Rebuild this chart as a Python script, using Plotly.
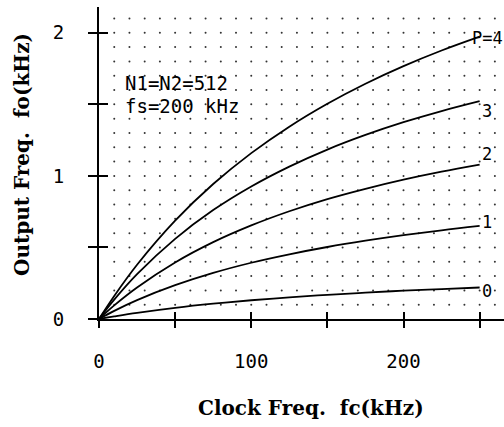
import plotly.graph_objects as go

# Clock frequency (kHz) sample points
fc = [0, 10, 25, 50, 75, 100, 125, 150, 175, 200, 225, 250]
# Output frequency (kHz) read for each P
fo_p0 = [0, 0.018, 0.043, 0.078, 0.107, 0.131, 0.151, 0.169, 0.184, 0.198, 0.209, 0.220]
fo_p1 = [0, 0.057, 0.132, 0.236, 0.322, 0.393, 0.452, 0.503, 0.547, 0.586, 0.620, 0.650]
fo_p2 = [0, 0.095, 0.220, 0.395, 0.537, 0.654, 0.753, 0.838, 0.910, 0.974, 1.030, 1.079]
fo_p3 = [0, 0.135, 0.313, 0.560, 0.761, 0.926, 1.065, 1.184, 1.286, 1.375, 1.453, 1.522]
fo_p4 = [0, 0.161, 0.379, 0.687, 0.943, 1.159, 1.344, 1.504, 1.644, 1.767, 1.876, 1.973]
series = [fo_p0, fo_p1, fo_p2, fo_p3, fo_p4]

curve_labels = ["0", "1", "2", "3", "P=4"]
label_y = [0.197, 0.68, 1.15, 1.45, 1.96]
label_x = 255

x_ticks = [0, 50, 100, 150, 200, 250]
x_ticktext = ["0", "", "100", "", "200", ""]
y_ticks = [0, 0.5, 1, 1.5, 2]
y_ticktext = ["0", "", "1", "", "2"]

grid_x = [10 * i for i in range(1, 27)]
grid_y = [round(0.1 * j, 1) for j in range(1, 22)]

X_RANGE = [0, 266]
Y_RANGE = [0, 2.18]

MONO = "DejaVu Sans Mono"
SERIF = "DejaVu Serif"

fig = go.Figure()

# dot grid
gx, gy = [], []
for xv in grid_x:
    for yv in grid_y:
        gx.append(xv)
        gy.append(yv)
fig.add_trace(go.Scatter(x=gx, y=gy, mode="markers",
                         marker=dict(size=2, color="#333"),
                         hoverinfo="skip", showlegend=False))

for ys in series:
    fig.add_trace(go.Scatter(x=fc, y=ys, mode="lines",
                             line=dict(color="black", width=1.8, shape="spline"),
                             showlegend=False))

# invisible trace for the overlay axes (inner half of crossing ticks)
fig.add_trace(go.Scatter(x=[0], y=[0], xaxis="x2", yaxis="y2", mode="markers",
                         marker=dict(size=1, opacity=0), showlegend=False,
                         hoverinfo="skip"))

for txt, yv in zip(curve_labels, label_y):
    fig.add_annotation(x=label_x, y=yv, text=txt, showarrow=False,
                       xanchor="center", yanchor="middle",
                       font=dict(family=MONO, size=17, color="black"))

fig.add_annotation(x=15.8, y=1.647, text="N1=N2=512", showarrow=False,
                   xanchor="left", yanchor="middle",
                   font=dict(family=MONO, size=19, color="black"))
fig.add_annotation(x=15.8, y=1.49, text="fs=200 kHz", showarrow=False,
                   xanchor="left", yanchor="middle",
                   font=dict(family=MONO, size=19, color="black"))

# axis titles
fig.add_annotation(xref="paper", yref="paper", x=0.523, y=-0.286,
                   text="Clock Freq.\u00a0\u00a0fc(kHz)", showarrow=False,
                   xanchor="center", yanchor="middle",
                   font=dict(family=SERIF, size=20, color="black", weight="bold"))
fig.add_annotation(xref="paper", yref="paper", x=-0.190, y=0.526,
                   text="Output Freq.\u00a0\u00a0fo(kHz)", showarrow=False,
                   textangle=-90, xanchor="center", yanchor="middle",
                   font=dict(family=SERIF, size=20, color="black", weight="bold"))

fig.update_layout(
    width=504, height=427,
    margin=dict(l=99, r=0, t=7, b=108),
    paper_bgcolor="white", plot_bgcolor="white",
    xaxis=dict(range=X_RANGE, showgrid=False, zeroline=False,
               showline=True, linecolor="black", linewidth=2,
               tickvals=x_ticks, ticktext=x_ticktext,
               ticks="outside", ticklen=7, tickwidth=1.5, tickcolor="black",
               ticklabelstandoff=17,
               tickfont=dict(family=MONO, size=19, color="black")),
    yaxis=dict(range=Y_RANGE, showgrid=False, zeroline=False,
               showline=True, linecolor="black", linewidth=2,
               tickvals=y_ticks, ticktext=y_ticktext,
               ticks="outside", ticklen=9, tickwidth=1.5, tickcolor="black",
               ticklabelstandoff=20,
               tickfont=dict(family=MONO, size=19, color="black")),
    xaxis2=dict(range=X_RANGE, overlaying="x", anchor="y", side="bottom",
                showgrid=False, zeroline=False, showline=False,
                tickvals=x_ticks, showticklabels=False,
                ticks="inside", ticklen=7, tickwidth=1.5, tickcolor="black"),
    yaxis2=dict(range=Y_RANGE, overlaying="y", anchor="x", side="left",
                showgrid=False, zeroline=False, showline=False,
                tickvals=y_ticks, showticklabels=False,
                ticks="inside", ticklen=9, tickwidth=1.5, tickcolor="black"),
)

fig.write_html("out.html",
               config={"displayModeBar": False},
               post_script="document.body.style.margin='0px';"
                           "document.body.style.overflow='hidden';")
